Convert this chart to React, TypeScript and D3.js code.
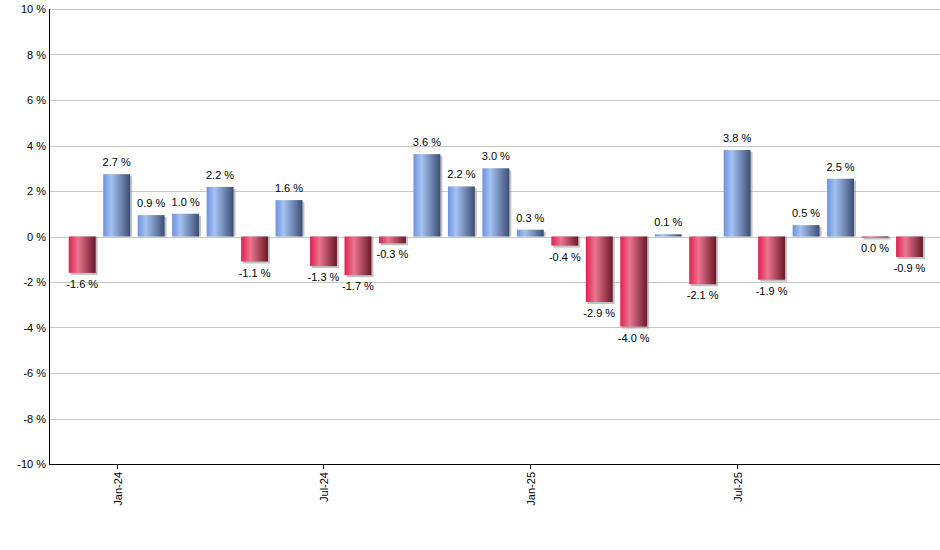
import React, { useRef, useEffect } from "react";
import * as d3 from "d3";

const months = [
  "Dec-23", "Jan-24", "Feb-24", "Mar-24", "Apr-24", "May-24", "Jun-24",
  "Jul-24", "Aug-24", "Sep-24", "Oct-24", "Nov-24", "Dec-24", "Jan-25",
  "Feb-25", "Mar-25", "Apr-25", "May-25", "Jun-25", "Jul-25", "Aug-25",
  "Sep-25", "Oct-25", "Nov-25", "Dec-25",
];

const returns = [
  -1.6, 2.74, 0.94, 1.0, 2.18, -1.1, 1.6, -1.3, -1.7, -0.3, 3.62, 2.2, 3.0,
  0.3, -0.4, -2.88, -3.96, 0.1, -2.1, 3.8, -1.9, 0.5, 2.54, -0.04, -0.9,
];

const xTickLabels = ["Jan-24", "Jul-24", "Jan-25", "Jul-25"];
const yTicks = [-10, -8, -6, -4, -2, 0, 2, 4, 6, 8, 10];

const App: React.FC = () => {
  const ref = useRef<SVGSVGElement | null>(null);

  useEffect(() => {
    if (!ref.current) return;
    const svg = d3.select(ref.current);
    svg.selectAll("*").remove();

    const width = 940;
    const height = 550;
    const left = 49;
    const right = 940;
    const top = 9;
    const bottom = 464;
    const font = "'Liberation Sans', Arial, sans-serif";

    const x = d3.scaleLinear().domain([-0.963, 24.885]).range([left, right]);
    const y = d3.scaleLinear().domain([-10, 10]).range([bottom, top]);
    const step = x(1) - x(0);
    const barW = step * 0.78;

    const defs = svg.append("defs");
    const blue = defs.append("linearGradient").attr("id", "gBlue");
    [["0", "#6b93e0"], ["0.3", "#a6c2f2"], ["1", "#3a4e74"]].forEach(([o, c]) =>
      blue.append("stop").attr("offset", o).attr("stop-color", c)
    );
    const red = defs.append("linearGradient").attr("id", "gRed");
    [["0", "#df2150"], ["0.35", "#ea7690"], ["1", "#6a182a"]].forEach(([o, c]) =>
      red.append("stop").attr("offset", o).attr("stop-color", c)
    );

    // gridlines
    svg
      .append("g")
      .selectAll("line")
      .data(yTicks)
      .enter()
      .append("line")
      .attr("x1", left)
      .attr("x2", right)
      .attr("y1", (d) => Math.round(y(d)) + 0.5)
      .attr("y2", (d) => Math.round(y(d)) + 0.5)
      .attr("stroke", "#c8c8c8")
      .attr("stroke-width", 1);

    // y labels
    svg
      .append("g")
      .selectAll("text")
      .data(yTicks)
      .enter()
      .append("text")
      .attr("x", left - 3)
      .attr("y", (d) => y(d) + 4)
      .attr("text-anchor", "end")
      .style("font-family", font)
      .style("font-size", "11px")
      .attr("fill", "#000")
      .text((d) => `${d} %`);

    const data = returns.map((v, i) => ({ i, v, m: months[i] }));

    // shadows
    svg
      .append("g")
      .selectAll("rect")
      .data(data)
      .enter()
      .append("rect")
      .attr("x", (d) => x(d.i) - barW / 2 + 2)
      .attr("y", (d) => Math.min(y(d.v), y(0)) + (d.v >= 0 ? 2 : 0))
      .attr("width", barW)
      .attr("height", (d) => Math.max(1, Math.abs(y(d.v) - y(0))) + (d.v >= 0 ? -2 : 2))
      .attr("fill", "#9a9a9a")
      .attr("opacity", 0.6);

    // bars
    svg
      .append("g")
      .selectAll("rect")
      .data(data)
      .enter()
      .append("rect")
      .attr("x", (d) => x(d.i) - barW / 2)
      .attr("y", (d) => Math.min(y(d.v), y(0)))
      .attr("width", barW)
      .attr("height", (d) => Math.max(1, Math.abs(y(d.v) - y(0))))
      .attr("fill", (d) => (d.v >= 0 ? "url(#gBlue)" : "url(#gRed)"));

    // value labels
    svg
      .append("g")
      .selectAll("text")
      .data(data)
      .enter()
      .append("text")
      .attr("x", (d) => x(d.i))
      .attr("y", (d) => (d.v >= 0 ? y(d.v) - 8 : y(d.v) + 15))
      .attr("text-anchor", "middle")
      .style("font-family", font)
      .style("font-size", "11px")
      .attr("fill", "#000")
      .text((d) => `${Math.abs(d.v) < 0.05 ? "0.0" : d.v.toFixed(1)} %`);

    // axes lines
    svg
      .append("line")
      .attr("x1", left + 0.5)
      .attr("x2", left + 0.5)
      .attr("y1", top)
      .attr("y2", bottom)
      .attr("stroke", "#000");
    svg
      .append("line")
      .attr("x1", left)
      .attr("x2", right)
      .attr("y1", bottom + 0.5)
      .attr("y2", bottom + 0.5)
      .attr("stroke", "#000");

    // x ticks
    const xt = svg
      .append("g")
      .selectAll("g")
      .data(xTickLabels)
      .enter()
      .append("g")
      .attr("transform", (d) => `translate(${Math.round(x(months.indexOf(d))) + 0.5},${bottom})`);
    xt.append("line").attr("y1", 0).attr("y2", 5).attr("stroke", "#000");
    xt.append("text")
      .attr("transform", "rotate(-90)")
      .attr("x", -8)
      .attr("y", 4)
      .attr("text-anchor", "end")
      .style("font-family", font)
      .style("font-size", "11px")
      .attr("fill", "#000")
      .text((d) => d);

    svg.attr("width", width).attr("height", height);
  }, []);

  return (
    <svg
      ref={ref}
      style={{ position: "absolute", left: 0, top: 0, display: "block" }}
    ></svg>
  );
};

export default App;
